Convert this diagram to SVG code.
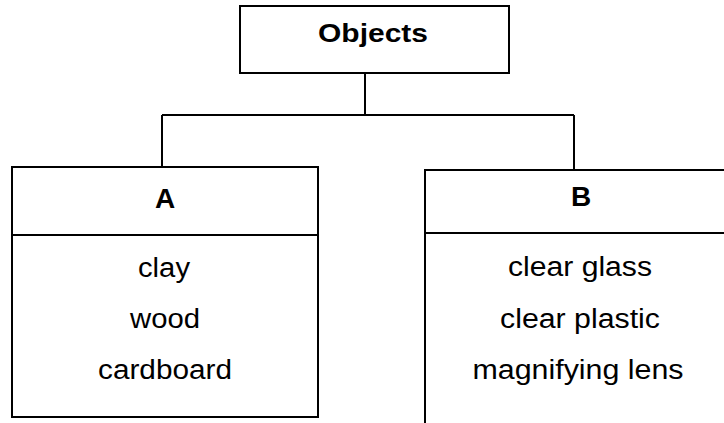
<svg xmlns="http://www.w3.org/2000/svg" width="724" height="423" viewBox="0 0 724 423">
<style>
.box{fill:none;stroke:#000;stroke-width:2}
.ln{fill:none;stroke:#000;stroke-width:2}
.t{font-family:"Liberation Sans",Arial,sans-serif;font-size:27px;fill:#000;text-anchor:middle}
.h{font-family:"Liberation Sans",Arial,sans-serif;font-weight:bold;fill:#000;text-anchor:middle}
</style>
<rect width="724" height="423" fill="#fff"/>
<g id="connectors">
<path class="ln" d="M365 73V115M162 115H574M162 115V167M574 115V170"/>
</g>
<g id="objects">
<rect class="box" x="240" y="6" width="269" height="67"/>
<text class="h" x="373" y="42" font-size="25" textLength="110" lengthAdjust="spacingAndGlyphs">Objects</text>
</g>
<g id="A">
<rect class="box" x="12" y="167" width="306" height="250"/>
<line class="ln" x1="12" y1="235" x2="318" y2="235"/>
<text class="h" x="165" y="208" font-size="28">A</text>
<text class="t" x="164" y="277" textLength="52" lengthAdjust="spacingAndGlyphs">clay</text>
<text class="t" x="165" y="328" textLength="70" lengthAdjust="spacingAndGlyphs">wood</text>
<text class="t" x="165" y="379" textLength="134" lengthAdjust="spacingAndGlyphs">cardboard</text>
</g>
<g id="B">
<rect class="box" x="425" y="170" width="320" height="270"/>
<line class="ln" x1="425" y1="233" x2="745" y2="233"/>
<text class="h" x="581" y="206" font-size="28">B</text>
<text class="t" x="580" y="276" textLength="144" lengthAdjust="spacingAndGlyphs">clear glass</text>
<text class="t" x="580" y="328" textLength="160" lengthAdjust="spacingAndGlyphs">clear plastic</text>
<text class="t" x="578" y="379" textLength="211" lengthAdjust="spacingAndGlyphs">magnifying lens</text>
</g>
</svg>
